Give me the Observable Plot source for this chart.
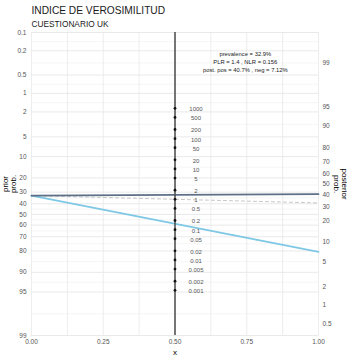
<!DOCTYPE html>
<html><head><meta charset="utf-8">
<script src="https://cdn.jsdelivr.net/npm/d3@7"></script>
<script src="https://cdn.jsdelivr.net/npm/@observablehq/plot@0.6"></script>
<style>
body{margin:0;background:#fff;}
svg{font-family:"Liberation Sans", Arial, sans-serif;}
</style>
</head><body><div id="chart"></div>
<script>
const title = "INDICE DE VEROSIMILITUD";
const subtitle = "CUESTIONARIO UK";
const probTicks = [0.1, 0.2, 0.5, 1, 2, 5, 10, 20, 30, 40, 50, 60, 70, 80, 90, 95, 99];
const lrTicks = [1000, 500, 200, 100, 50, 20, 10, 5, 2, 1, 0.5, 0.2, 0.1, 0.05, 0.02, 0.01, 0.005, 0.002, 0.001];
const xTicks = [0, 0.25, 0.5, 0.75, 1];
const xGrid = [0, 0.125, 0.25, 0.375, 0.5, 0.625, 0.75, 0.875, 1];
const prevalence = 32.9;
const PLR = 1.4, NLR = 0.156;
const postPos = 40.7, postNeg = 7.12;
const posteriorOffset = -1.15;
const annotation = `prevalence = ${prevalence}%\nPLR = ${PLR} , NLR = ${NLR}\npost. pos = ${postPos}% , neg = ${postNeg}%`;
const annotationAt = {x: 0.745, prob: 0.3};

const logit = p => Math.log(p / (1 - p));
const yPrior = pct => logit(pct / 100);
const yPost = pct => posteriorOffset - logit(pct / 100);
const yLR = lr => posteriorOffset / 2 - Math.log(lr) / 2;
const yMin = yPrior(probTicks[0]), yMax = yPrior(probTicks[probTicks.length - 1]);

const majorY = probTicks.map(yPrior);
const minorY = majorY.slice(1).map((v, i) => (v + majorY[i]) / 2);
const rightTicks = probTicks.filter(p => yPost(p) >= yMin && yPost(p) <= yMax);

const positive = [{x: 0, y: yPrior(prevalence)}, {x: 1, y: yPost(postPos)}];
const negative = [{x: 0, y: yPrior(prevalence)}, {x: 1, y: yPost(postNeg)}];
const neutral = [{x: 0, y: yPrior(prevalence)}, {x: 1, y: yPost(prevalence)}];

const tickFill = "#555555";
const chart = Plot.plot({
  width: 347, height: 360,
  marginLeft: 31, marginRight: 29, marginTop: 32, marginBottom: 25,
  x: {domain: [0, 1], axis: null},
  y: {domain: [yMin, yMax], reverse: true, axis: null},
  style: {background: "white", fontFamily: "Liberation Sans, Arial, sans-serif"},
  marks: [
    Plot.ruleY(minorY, {y: d => d, stroke: "#f0f0f0", strokeWidth: 0.7}),
    Plot.ruleY(majorY, {y: d => d, stroke: "#e6e6e6", strokeWidth: 0.9}),
    Plot.ruleX(xGrid, {x: d => d, stroke: "#e8e8e8", strokeWidth: 0.8}),
    Plot.line(neutral, {x: "x", y: "y", stroke: "#b8b8b8", strokeWidth: 0.8, strokeDasharray: "3,3"}),
    Plot.line(negative, {x: "x", y: "y", stroke: "#7ec8e6", strokeWidth: 1.8}),
    Plot.line(positive, {x: "x", y: "y", stroke: "#5d7088", strokeWidth: 1.8}),
    Plot.ruleX([0.5], {x: d => d, stroke: "#4a4a4a", strokeWidth: 1.5}),
    Plot.dot(lrTicks, {x: () => 0.5, y: yLR, r: 1.4, fill: "#111"}),
    Plot.text(lrTicks, {x: () => 0.5, y: yLR, text: d => String(d), dx: 21, dy: 1, fontSize: 6, fill: tickFill}),
    Plot.text(probTicks, {x: () => 0, y: yPrior, text: d => String(d), textAnchor: "end", dx: -5, fontSize: 6.5, fill: tickFill}),
    Plot.text(rightTicks, {x: () => 1, y: yPost, text: d => String(d), textAnchor: "start", dx: 4, fontSize: 6.5, fill: tickFill}),
    Plot.text(xTicks, {x: d => d, frameAnchor: "bottom", dy: 8, text: d => d.toFixed(2), fontSize: 6.5, fill: tickFill}),
    Plot.text([annotation], {x: () => annotationAt.x, y: () => yPrior(annotationAt.prob), text: d => d, fontSize: 5.85, lineHeight: 1.4, fill: "#222"}),
    Plot.text([title], {frameAnchor: "top-left", dy: -22, lineAnchor: "middle", text: d => d, fontSize: 10.2, fill: "#1a1a1a"}),
    Plot.text([subtitle], {frameAnchor: "top-left", dy: -8, lineAnchor: "middle", text: d => d, fontSize: 8.3, fill: "#1a1a1a"}),
    Plot.text(["prior\nprob."], {frameAnchor: "left", dx: -22, rotate: -90, lineAnchor: "middle", textAnchor: "middle", lineHeight: 1, text: d => d, fontSize: 8, fill: "#000"}),
    Plot.text(["posterior\nprob."], {frameAnchor: "right", dx: 22, rotate: 90, lineAnchor: "middle", textAnchor: "middle", lineHeight: 1, text: d => d, fontSize: 8, fill: "#000"}),
    Plot.text(["x"], {frameAnchor: "bottom", dy: 17, lineAnchor: "middle", text: d => d, fontSize: 8, fill: "#000"})
  ]
});
document.getElementById("chart").appendChild(chart);
</script>
</body></html>
